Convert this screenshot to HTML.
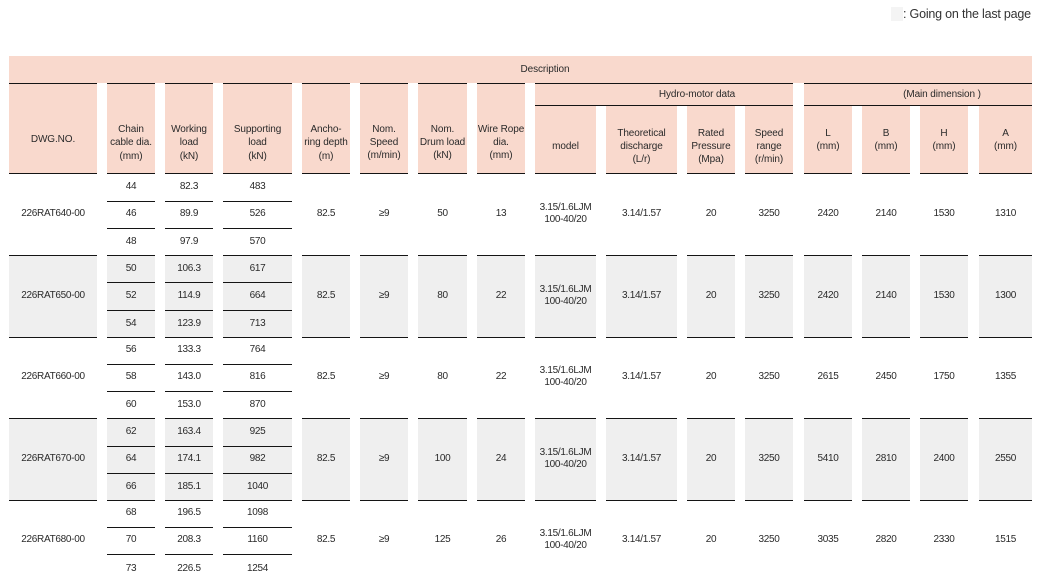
<!DOCTYPE html>
<html><head><meta charset="utf-8">
<style>
html,body{margin:0;padding:0;background:#fff;}
body{width:1043px;height:578px;overflow:hidden;position:relative;font-family:"Liberation Sans","DejaVu Sans",sans-serif;color:#2a2a2a;}
.pk{position:absolute;background:#f9d9cd;}
.gy{position:absolute;background:#efefef;}
.ln{position:absolute;height:1px;background:#141414;}
.t{position:absolute;transform:translateX(-50%);text-align:center;white-space:nowrap;font-size:10px;line-height:13.4px;letter-spacing:-0.1px;}
.d{position:absolute;transform:translateX(-50%);text-align:center;white-space:nowrap;font-size:10px;line-height:12px;letter-spacing:-0.3px;}
</style></head><body>

<div style="position:absolute;left:891px;top:7px;width:12px;height:14px;background:#f4f4f4;"></div>
<div style="position:absolute;left:903px;top:6px;font-size:12.5px;line-height:16px;color:#333;white-space:nowrap;letter-spacing:-0.2px;">: Going on the last page</div>

<!-- pink header -->
<div class="pk" style="left:9px;top:56px;width:1023px;height:27px;"></div>
<div class="pk" style="left:9px;top:83px;width:88px;height:91px;"></div>
<div class="pk" style="left:107px;top:83px;width:48px;height:91px;"></div>
<div class="pk" style="left:165px;top:83px;width:48px;height:91px;"></div>
<div class="pk" style="left:223px;top:83px;width:69px;height:91px;"></div>
<div class="pk" style="left:302px;top:83px;width:48px;height:91px;"></div>
<div class="pk" style="left:360px;top:83px;width:48px;height:91px;"></div>
<div class="pk" style="left:418px;top:83px;width:49px;height:91px;"></div>
<div class="pk" style="left:477px;top:83px;width:48px;height:91px;"></div>
<div class="pk" style="left:535px;top:83px;width:258px;height:22px;"></div>
<div class="pk" style="left:804px;top:83px;width:228px;height:22px;"></div>
<div class="pk" style="left:535px;top:105px;width:61px;height:69px;"></div>
<div class="pk" style="left:606px;top:105px;width:71px;height:69px;"></div>
<div class="pk" style="left:687px;top:105px;width:48px;height:69px;"></div>
<div class="pk" style="left:745px;top:105px;width:48px;height:69px;"></div>
<div class="pk" style="left:804px;top:105px;width:48px;height:69px;"></div>
<div class="pk" style="left:862px;top:105px;width:48px;height:69px;"></div>
<div class="pk" style="left:920px;top:105px;width:48px;height:69px;"></div>
<div class="pk" style="left:979px;top:105px;width:53px;height:69px;"></div>

<!-- gray groups 2 and 4 -->
<div class="gy" style="left:9px;top:255.5px;width:88px;height:81.5px;"></div>
<div class="gy" style="left:107px;top:255.5px;width:48px;height:81.5px;"></div>
<div class="gy" style="left:165px;top:255.5px;width:48px;height:81.5px;"></div>
<div class="gy" style="left:223px;top:255.5px;width:69px;height:81.5px;"></div>
<div class="gy" style="left:302px;top:255.5px;width:48px;height:81.5px;"></div>
<div class="gy" style="left:360px;top:255.5px;width:48px;height:81.5px;"></div>
<div class="gy" style="left:418px;top:255.5px;width:49px;height:81.5px;"></div>
<div class="gy" style="left:477px;top:255.5px;width:48px;height:81.5px;"></div>
<div class="gy" style="left:535px;top:255.5px;width:61px;height:81.5px;"></div>
<div class="gy" style="left:606px;top:255.5px;width:71px;height:81.5px;"></div>
<div class="gy" style="left:687px;top:255.5px;width:48px;height:81.5px;"></div>
<div class="gy" style="left:745px;top:255.5px;width:48px;height:81.5px;"></div>
<div class="gy" style="left:804px;top:255.5px;width:48px;height:81.5px;"></div>
<div class="gy" style="left:862px;top:255.5px;width:48px;height:81.5px;"></div>
<div class="gy" style="left:920px;top:255.5px;width:48px;height:81.5px;"></div>
<div class="gy" style="left:979px;top:255.5px;width:53px;height:81.5px;"></div>

<div class="gy" style="left:9px;top:418.5px;width:88px;height:81.5px;"></div>
<div class="gy" style="left:107px;top:418.5px;width:48px;height:81.5px;"></div>
<div class="gy" style="left:165px;top:418.5px;width:48px;height:81.5px;"></div>
<div class="gy" style="left:223px;top:418.5px;width:69px;height:81.5px;"></div>
<div class="gy" style="left:302px;top:418.5px;width:48px;height:81.5px;"></div>
<div class="gy" style="left:360px;top:418.5px;width:48px;height:81.5px;"></div>
<div class="gy" style="left:418px;top:418.5px;width:49px;height:81.5px;"></div>
<div class="gy" style="left:477px;top:418.5px;width:48px;height:81.5px;"></div>
<div class="gy" style="left:535px;top:418.5px;width:61px;height:81.5px;"></div>
<div class="gy" style="left:606px;top:418.5px;width:71px;height:81.5px;"></div>
<div class="gy" style="left:687px;top:418.5px;width:48px;height:81.5px;"></div>
<div class="gy" style="left:745px;top:418.5px;width:48px;height:81.5px;"></div>
<div class="gy" style="left:804px;top:418.5px;width:48px;height:81.5px;"></div>
<div class="gy" style="left:862px;top:418.5px;width:48px;height:81.5px;"></div>
<div class="gy" style="left:920px;top:418.5px;width:48px;height:81.5px;"></div>
<div class="gy" style="left:979px;top:418.5px;width:53px;height:81.5px;"></div>

<!-- line y=83 -->
<div class="ln" style="left:9px;top:83px;width:88px;"></div>
<div class="ln" style="left:107px;top:83px;width:48px;"></div>
<div class="ln" style="left:165px;top:83px;width:48px;"></div>
<div class="ln" style="left:223px;top:83px;width:69px;"></div>
<div class="ln" style="left:302px;top:83px;width:48px;"></div>
<div class="ln" style="left:360px;top:83px;width:48px;"></div>
<div class="ln" style="left:418px;top:83px;width:49px;"></div>
<div class="ln" style="left:477px;top:83px;width:48px;"></div>
<div class="ln" style="left:535px;top:83px;width:258px;"></div>
<div class="ln" style="left:804px;top:83px;width:228px;"></div>
<!-- line y=105 -->
<div class="ln" style="left:535px;top:105px;width:258px;"></div>
<div class="ln" style="left:804px;top:105px;width:228px;"></div>

<!-- per-column horizontal lines: header bottom + group boundaries -->
<div style="position:absolute;left:0;top:0;">
</div>
<!-- y=173 -->
<div class="ln" style="left:9px;top:173px;width:88px;"></div>
<div class="ln" style="left:107px;top:173px;width:48px;"></div>
<div class="ln" style="left:165px;top:173px;width:48px;"></div>
<div class="ln" style="left:223px;top:173px;width:69px;"></div>
<div class="ln" style="left:302px;top:173px;width:48px;"></div>
<div class="ln" style="left:360px;top:173px;width:48px;"></div>
<div class="ln" style="left:418px;top:173px;width:49px;"></div>
<div class="ln" style="left:477px;top:173px;width:48px;"></div>
<div class="ln" style="left:535px;top:173px;width:61px;"></div>
<div class="ln" style="left:606px;top:173px;width:71px;"></div>
<div class="ln" style="left:687px;top:173px;width:48px;"></div>
<div class="ln" style="left:745px;top:173px;width:48px;"></div>
<div class="ln" style="left:804px;top:173px;width:48px;"></div>
<div class="ln" style="left:862px;top:173px;width:48px;"></div>
<div class="ln" style="left:920px;top:173px;width:48px;"></div>
<div class="ln" style="left:979px;top:173px;width:53px;"></div>
<!-- y=255 -->
<div class="ln" style="left:9px;top:255px;width:88px;"></div>
<div class="ln" style="left:107px;top:255px;width:48px;"></div>
<div class="ln" style="left:165px;top:255px;width:48px;"></div>
<div class="ln" style="left:223px;top:255px;width:69px;"></div>
<div class="ln" style="left:302px;top:255px;width:48px;"></div>
<div class="ln" style="left:360px;top:255px;width:48px;"></div>
<div class="ln" style="left:418px;top:255px;width:49px;"></div>
<div class="ln" style="left:477px;top:255px;width:48px;"></div>
<div class="ln" style="left:535px;top:255px;width:61px;"></div>
<div class="ln" style="left:606px;top:255px;width:71px;"></div>
<div class="ln" style="left:687px;top:255px;width:48px;"></div>
<div class="ln" style="left:745px;top:255px;width:48px;"></div>
<div class="ln" style="left:804px;top:255px;width:48px;"></div>
<div class="ln" style="left:862px;top:255px;width:48px;"></div>
<div class="ln" style="left:920px;top:255px;width:48px;"></div>
<div class="ln" style="left:979px;top:255px;width:53px;"></div>
<!-- y=337 -->
<div class="ln" style="left:9px;top:337px;width:88px;"></div>
<div class="ln" style="left:107px;top:337px;width:48px;"></div>
<div class="ln" style="left:165px;top:337px;width:48px;"></div>
<div class="ln" style="left:223px;top:337px;width:69px;"></div>
<div class="ln" style="left:302px;top:337px;width:48px;"></div>
<div class="ln" style="left:360px;top:337px;width:48px;"></div>
<div class="ln" style="left:418px;top:337px;width:49px;"></div>
<div class="ln" style="left:477px;top:337px;width:48px;"></div>
<div class="ln" style="left:535px;top:337px;width:61px;"></div>
<div class="ln" style="left:606px;top:337px;width:71px;"></div>
<div class="ln" style="left:687px;top:337px;width:48px;"></div>
<div class="ln" style="left:745px;top:337px;width:48px;"></div>
<div class="ln" style="left:804px;top:337px;width:48px;"></div>
<div class="ln" style="left:862px;top:337px;width:48px;"></div>
<div class="ln" style="left:920px;top:337px;width:48px;"></div>
<div class="ln" style="left:979px;top:337px;width:53px;"></div>
<!-- y=418 -->
<div class="ln" style="left:9px;top:418px;width:88px;"></div>
<div class="ln" style="left:107px;top:418px;width:48px;"></div>
<div class="ln" style="left:165px;top:418px;width:48px;"></div>
<div class="ln" style="left:223px;top:418px;width:69px;"></div>
<div class="ln" style="left:302px;top:418px;width:48px;"></div>
<div class="ln" style="left:360px;top:418px;width:48px;"></div>
<div class="ln" style="left:418px;top:418px;width:49px;"></div>
<div class="ln" style="left:477px;top:418px;width:48px;"></div>
<div class="ln" style="left:535px;top:418px;width:61px;"></div>
<div class="ln" style="left:606px;top:418px;width:71px;"></div>
<div class="ln" style="left:687px;top:418px;width:48px;"></div>
<div class="ln" style="left:745px;top:418px;width:48px;"></div>
<div class="ln" style="left:804px;top:418px;width:48px;"></div>
<div class="ln" style="left:862px;top:418px;width:48px;"></div>
<div class="ln" style="left:920px;top:418px;width:48px;"></div>
<div class="ln" style="left:979px;top:418px;width:53px;"></div>
<!-- y=500 -->
<div class="ln" style="left:9px;top:500px;width:88px;"></div>
<div class="ln" style="left:107px;top:500px;width:48px;"></div>
<div class="ln" style="left:165px;top:500px;width:48px;"></div>
<div class="ln" style="left:223px;top:500px;width:69px;"></div>
<div class="ln" style="left:302px;top:500px;width:48px;"></div>
<div class="ln" style="left:360px;top:500px;width:48px;"></div>
<div class="ln" style="left:418px;top:500px;width:49px;"></div>
<div class="ln" style="left:477px;top:500px;width:48px;"></div>
<div class="ln" style="left:535px;top:500px;width:61px;"></div>
<div class="ln" style="left:606px;top:500px;width:71px;"></div>
<div class="ln" style="left:687px;top:500px;width:48px;"></div>
<div class="ln" style="left:745px;top:500px;width:48px;"></div>
<div class="ln" style="left:804px;top:500px;width:48px;"></div>
<div class="ln" style="left:862px;top:500px;width:48px;"></div>
<div class="ln" style="left:920px;top:500px;width:48px;"></div>
<div class="ln" style="left:979px;top:500px;width:53px;"></div>

<!-- sub-row lines for chain/working/supporting -->
<div class="ln" style="left:107px;top:201px;width:48px;"></div><div class="ln" style="left:165px;top:201px;width:48px;"></div><div class="ln" style="left:223px;top:201px;width:69px;"></div>
<div class="ln" style="left:107px;top:228px;width:48px;"></div><div class="ln" style="left:165px;top:228px;width:48px;"></div><div class="ln" style="left:223px;top:228px;width:69px;"></div>
<div class="ln" style="left:107px;top:282px;width:48px;"></div><div class="ln" style="left:165px;top:282px;width:48px;"></div><div class="ln" style="left:223px;top:282px;width:69px;"></div>
<div class="ln" style="left:107px;top:309.5px;width:48px;"></div><div class="ln" style="left:165px;top:309.5px;width:48px;"></div><div class="ln" style="left:223px;top:309.5px;width:69px;"></div>
<div class="ln" style="left:107px;top:364px;width:48px;"></div><div class="ln" style="left:165px;top:364px;width:48px;"></div><div class="ln" style="left:223px;top:364px;width:69px;"></div>
<div class="ln" style="left:107px;top:391px;width:48px;"></div><div class="ln" style="left:165px;top:391px;width:48px;"></div><div class="ln" style="left:223px;top:391px;width:69px;"></div>
<div class="ln" style="left:107px;top:445.5px;width:48px;"></div><div class="ln" style="left:165px;top:445.5px;width:48px;"></div><div class="ln" style="left:223px;top:445.5px;width:69px;"></div>
<div class="ln" style="left:107px;top:472.5px;width:48px;"></div><div class="ln" style="left:165px;top:472.5px;width:48px;"></div><div class="ln" style="left:223px;top:472.5px;width:69px;"></div>
<div class="ln" style="left:107px;top:527px;width:48px;"></div><div class="ln" style="left:165px;top:527px;width:48px;"></div><div class="ln" style="left:223px;top:527px;width:69px;"></div>
<div class="ln" style="left:107px;top:554px;width:48px;"></div><div class="ln" style="left:165px;top:554px;width:48px;"></div><div class="ln" style="left:223px;top:554px;width:69px;"></div>

<!-- header text -->
<div class="t" style="left:545px;top:62.5px;">Description</div>
<div class="t" style="left:697px;top:87.5px;">Hydro-motor data</div>
<div class="t" style="left:942px;top:87.5px;">(Main dimension )</div>

<div class="t" style="left:53px;top:132.5px;">DWG.NO.</div>
<div class="t" style="left:131px;top:123px;">Chain<br>cable dia.<br>(mm)</div>
<div class="t" style="left:189px;top:123px;">Working<br>load<br>(kN)</div>
<div class="t" style="left:257.5px;top:123px;">Supporting<br>load<br>(kN)</div>
<div class="t" style="left:326px;top:123px;">Ancho-<br>ring depth<br>(m)</div>
<div class="t" style="left:384px;top:122.5px;">Nom.<br>Speed<br>(m/min)</div>
<div class="t" style="left:442.5px;top:122.5px;">Nom.<br>Drum load<br>(kN)</div>
<div class="t" style="left:501px;top:122.5px;">Wire Rope<br>dia.<br>(mm)</div>
<div class="t" style="left:565.5px;top:140px;">model</div>
<div class="t" style="left:641.5px;top:126.5px;">Theoretical<br>discharge<br>(L/r)</div>
<div class="t" style="left:711px;top:126.5px;">Rated<br>Pressure<br>(Mpa)</div>
<div class="t" style="left:769px;top:126.5px;">Speed<br>range<br>(r/min)</div>
<div class="t" style="left:828px;top:126.5px;">L<br>(mm)</div>
<div class="t" style="left:886px;top:126.5px;">B<br>(mm)</div>
<div class="t" style="left:944px;top:126.5px;">H<br>(mm)</div>
<div class="t" style="left:1005.5px;top:126.5px;">A<br>(mm)</div>

<!-- Group 1 (start 174) -->
<div class="d" style="left:53px;top:208px;">226RAT640-00</div>
<div class="d" style="left:131px;top:181px;">44</div><div class="d" style="left:189px;top:181px;">82.3</div><div class="d" style="left:257.5px;top:181px;">483</div>
<div class="d" style="left:131px;top:208px;">46</div><div class="d" style="left:189px;top:208px;">89.9</div><div class="d" style="left:257.5px;top:208px;">526</div>
<div class="d" style="left:131px;top:236px;">48</div><div class="d" style="left:189px;top:236px;">97.9</div><div class="d" style="left:257.5px;top:236px;">570</div>
<div class="d" style="left:326px;top:208px;">82.5</div>
<div class="d" style="left:384px;top:208px;">≥9</div>
<div class="d" style="left:442.5px;top:208px;">50</div>
<div class="d" style="left:501px;top:208px;">13</div>
<div class="d" style="left:565.5px;top:202px;">3.15/1.6LJM<br>100-40/20</div>
<div class="d" style="left:641.5px;top:208px;">3.14/1.57</div>
<div class="d" style="left:711px;top:208px;">20</div>
<div class="d" style="left:769px;top:208px;">3250</div>
<div class="d" style="left:828px;top:208px;">2420</div>
<div class="d" style="left:886px;top:208px;">2140</div>
<div class="d" style="left:944px;top:208px;">1530</div>
<div class="d" style="left:1005.5px;top:208px;">1310</div>

<!-- Group 2 (start 255.5) -->
<div class="d" style="left:53px;top:289.5px;">226RAT650-00</div>
<div class="d" style="left:131px;top:262.5px;">50</div><div class="d" style="left:189px;top:262.5px;">106.3</div><div class="d" style="left:257.5px;top:262.5px;">617</div>
<div class="d" style="left:131px;top:289.5px;">52</div><div class="d" style="left:189px;top:289.5px;">114.9</div><div class="d" style="left:257.5px;top:289.5px;">664</div>
<div class="d" style="left:131px;top:317.5px;">54</div><div class="d" style="left:189px;top:317.5px;">123.9</div><div class="d" style="left:257.5px;top:317.5px;">713</div>
<div class="d" style="left:326px;top:289.5px;">82.5</div>
<div class="d" style="left:384px;top:289.5px;">≥9</div>
<div class="d" style="left:442.5px;top:289.5px;">80</div>
<div class="d" style="left:501px;top:289.5px;">22</div>
<div class="d" style="left:565.5px;top:283.5px;">3.15/1.6LJM<br>100-40/20</div>
<div class="d" style="left:641.5px;top:289.5px;">3.14/1.57</div>
<div class="d" style="left:711px;top:289.5px;">20</div>
<div class="d" style="left:769px;top:289.5px;">3250</div>
<div class="d" style="left:828px;top:289.5px;">2420</div>
<div class="d" style="left:886px;top:289.5px;">2140</div>
<div class="d" style="left:944px;top:289.5px;">1530</div>
<div class="d" style="left:1005.5px;top:289.5px;">1300</div>

<!-- Group 3 (start 337) -->
<div class="d" style="left:53px;top:371px;">226RAT660-00</div>
<div class="d" style="left:131px;top:344px;">56</div><div class="d" style="left:189px;top:344px;">133.3</div><div class="d" style="left:257.5px;top:344px;">764</div>
<div class="d" style="left:131px;top:371px;">58</div><div class="d" style="left:189px;top:371px;">143.0</div><div class="d" style="left:257.5px;top:371px;">816</div>
<div class="d" style="left:131px;top:399px;">60</div><div class="d" style="left:189px;top:399px;">153.0</div><div class="d" style="left:257.5px;top:399px;">870</div>
<div class="d" style="left:326px;top:371px;">82.5</div>
<div class="d" style="left:384px;top:371px;">≥9</div>
<div class="d" style="left:442.5px;top:371px;">80</div>
<div class="d" style="left:501px;top:371px;">22</div>
<div class="d" style="left:565.5px;top:365px;">3.15/1.6LJM<br>100-40/20</div>
<div class="d" style="left:641.5px;top:371px;">3.14/1.57</div>
<div class="d" style="left:711px;top:371px;">20</div>
<div class="d" style="left:769px;top:371px;">3250</div>
<div class="d" style="left:828px;top:371px;">2615</div>
<div class="d" style="left:886px;top:371px;">2450</div>
<div class="d" style="left:944px;top:371px;">1750</div>
<div class="d" style="left:1005.5px;top:371px;">1355</div>

<!-- Group 4 (start 418.5) -->
<div class="d" style="left:53px;top:452.5px;">226RAT670-00</div>
<div class="d" style="left:131px;top:425.5px;">62</div><div class="d" style="left:189px;top:425.5px;">163.4</div><div class="d" style="left:257.5px;top:425.5px;">925</div>
<div class="d" style="left:131px;top:452.5px;">64</div><div class="d" style="left:189px;top:452.5px;">174.1</div><div class="d" style="left:257.5px;top:452.5px;">982</div>
<div class="d" style="left:131px;top:480.5px;">66</div><div class="d" style="left:189px;top:480.5px;">185.1</div><div class="d" style="left:257.5px;top:480.5px;">1040</div>
<div class="d" style="left:326px;top:452.5px;">82.5</div>
<div class="d" style="left:384px;top:452.5px;">≥9</div>
<div class="d" style="left:442.5px;top:452.5px;">100</div>
<div class="d" style="left:501px;top:452.5px;">24</div>
<div class="d" style="left:565.5px;top:446.5px;">3.15/1.6LJM<br>100-40/20</div>
<div class="d" style="left:641.5px;top:452.5px;">3.14/1.57</div>
<div class="d" style="left:711px;top:452.5px;">20</div>
<div class="d" style="left:769px;top:452.5px;">3250</div>
<div class="d" style="left:828px;top:452.5px;">5410</div>
<div class="d" style="left:886px;top:452.5px;">2810</div>
<div class="d" style="left:944px;top:452.5px;">2400</div>
<div class="d" style="left:1005.5px;top:452.5px;">2550</div>

<!-- Group 5 (start 500) -->
<div class="d" style="left:53px;top:534px;">226RAT680-00</div>
<div class="d" style="left:131px;top:507px;">68</div><div class="d" style="left:189px;top:507px;">196.5</div><div class="d" style="left:257.5px;top:507px;">1098</div>
<div class="d" style="left:131px;top:534px;">70</div><div class="d" style="left:189px;top:534px;">208.3</div><div class="d" style="left:257.5px;top:534px;">1160</div>
<div class="d" style="left:131px;top:563px;">73</div><div class="d" style="left:189px;top:563px;">226.5</div><div class="d" style="left:257.5px;top:563px;">1254</div>
<div class="d" style="left:326px;top:534px;">82.5</div>
<div class="d" style="left:384px;top:534px;">≥9</div>
<div class="d" style="left:442.5px;top:534px;">125</div>
<div class="d" style="left:501px;top:534px;">26</div>
<div class="d" style="left:565.5px;top:528px;">3.15/1.6LJM<br>100-40/20</div>
<div class="d" style="left:641.5px;top:534px;">3.14/1.57</div>
<div class="d" style="left:711px;top:534px;">20</div>
<div class="d" style="left:769px;top:534px;">3250</div>
<div class="d" style="left:828px;top:534px;">3035</div>
<div class="d" style="left:886px;top:534px;">2820</div>
<div class="d" style="left:944px;top:534px;">2330</div>
<div class="d" style="left:1005.5px;top:534px;">1515</div>

</body></html>
